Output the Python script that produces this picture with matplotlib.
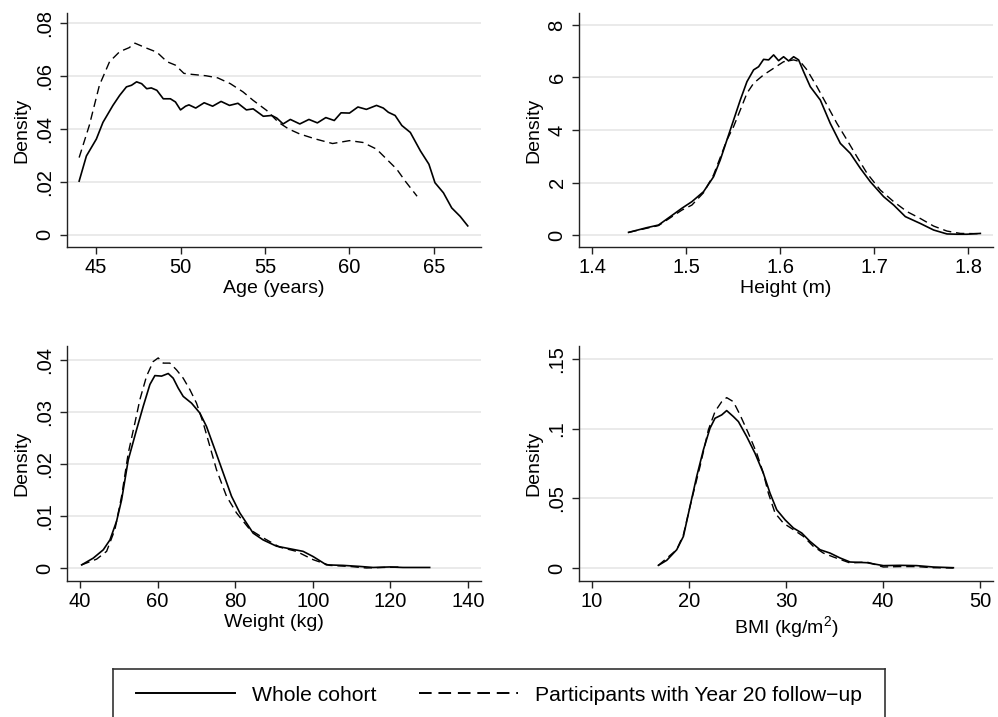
import numpy as np
import matplotlib
matplotlib.use("Agg")
import matplotlib.pyplot as plt
from matplotlib.lines import Line2D

plt.rcParams["font.family"] = ["Liberation Sans", "DejaVu Sans"]
plt.rcParams["mathtext.fontset"] = "custom"
plt.rcParams["mathtext.rm"] = "Liberation Sans"
plt.rcParams["mathtext.default"] = "regular"

# ---- data ----
age_whole_x = [44.0, 44.43, 45.02, 45.41, 46.0, 46.4, 46.8, 47.1, 47.4, 47.7, 48.0, 48.27, 48.6, 48.98,
               49.4, 49.7, 50.0, 50.3, 50.5, 50.9, 51.4, 51.9, 52.4, 52.9, 53.4, 53.9, 54.3, 54.9, 55.4,
               55.7, 56.07, 56.5, 57.06, 57.6, 58.1, 58.6, 59.1, 59.5, 60.0, 60.5, 61.0, 61.6, 62.0, 62.3,
               62.7, 63.1, 63.6, 64.2, 64.7, 65.06, 65.56, 66.05, 66.55, 67.0]
age_whole_y = [.0203, .0298, .0362, .0425, .0489, .0527, .0559, .0565, .0578, .0571, .0552, .0555, .0546,
               .0514, .0514, .0502, .0472, .0486, .0491, .0479, .0499, .0486, .0504, .0489, .0497, .0472,
               .0476, .0448, .0451, .0441, .0419, .0436, .0419, .0436, .0423, .0443, .0432, .0461, .0460,
               .0483, .0474, .0489, .0479, .0463, .0451, .0413, .0387, .0317, .0267, .0197, .0159, .0102,
               .0070, .0034]
age_fu_x = [44.0, 44.6, 45.2, 45.8, 46.4, 46.96, 47.3, 48.0, 48.6, 49.2, 49.7, 50.2, 50.7, 51.5, 52.2,
            52.95, 53.7, 54.3, 55.1, 55.8, 56.4, 57.06, 58.0, 59.0, 60.0, 60.8, 61.6, 62.2, 62.8, 63.3, 64.0]
age_fu_y = [.0292, .0413, .0565, .0654, .0692, .0707, .0724, .0705, .0690, .0654, .0641, .0610, .0606,
            .0601, .0593, .0571, .0540, .0508, .0470, .0425, .0400, .0381, .0362, .0345, .0356, .0349,
            .0324, .0286, .0248, .0203, .0146]

height_whole_x = [1.4387, 1.4582, 1.4706, 1.4831, 1.4955, 1.5061, 1.5185, 1.5292, 1.5363, 1.5434, 1.5505,
                  1.5576, 1.5647, 1.5718, 1.5771, 1.5824, 1.5878, 1.5931, 1.5984, 1.6037, 1.6091, 1.6144,
                  1.6197, 1.6250, 1.6321, 1.6428, 1.6534, 1.6641, 1.6747, 1.6854, 1.6960, 1.7102, 1.7209,
                  1.7333, 1.7492, 1.7634, 1.7776, 1.7883, 1.7989, 1.8131]
height_whole_y = [0.10, 0.28, 0.38, 0.70, 1.02, 1.27, 1.65, 2.22, 2.86, 3.62, 4.38, 5.14, 5.84, 6.29, 6.41,
                  6.69, 6.67, 6.86, 6.64, 6.79, 6.63, 6.79, 6.67, 6.22, 5.65, 5.14, 4.25, 3.49, 3.11, 2.54,
                  2.03, 1.46, 1.14, 0.70, 0.44, 0.19, 0.04, 0.03, 0.03, 0.06]
height_fu_x = [1.4387, 1.4706, 1.4955, 1.5061, 1.5185, 1.5292, 1.5434, 1.5505, 1.5576, 1.5647, 1.5718,
               1.5824, 1.5931, 1.6037, 1.6144, 1.6215, 1.6286, 1.6392, 1.6499, 1.6605, 1.6712, 1.6818,
               1.6925, 1.7067, 1.7209, 1.7351, 1.7492, 1.7634, 1.7776, 1.7918, 1.8131]
height_fu_y = [0.10, 0.36, 0.95, 1.14, 1.61, 2.29, 3.62, 4.13, 4.76, 5.40, 5.78, 6.10, 6.35, 6.60, 6.67,
               6.60, 6.29, 5.65, 4.95, 4.25, 3.62, 2.98, 2.35, 1.71, 1.27, 0.89, 0.63, 0.34, 0.15, 0.06, 0.05]

weight_whole_x = [40.43, 43.43, 46.01, 47.73, 49.44, 50.73, 52.45, 54.59, 56.31, 58.03, 59.31, 61.03, 62.75,
                  64.03, 65.32, 66.61, 68.76, 70.90, 72.62, 74.76, 76.91, 79.06, 81.20, 84.64, 87.21, 90.64,
                  94.08, 97.51, 100.09, 103.52, 107.81, 112.10, 115.54, 119.83, 123.26, 130.13]
weight_whole_y = [.0006, .0019, .0035, .0054, .0090, .0131, .0208, .0266, .0311, .0353, .0370, .0369, .0374,
                  .0365, .0346, .0330, .0317, .0298, .0272, .0228, .0183, .0138, .0106, .0067, .0054, .0042,
                  .0037, .0032, .0022, .0006, .0005, .0003, .0001, .0002, .0001, .0001]
weight_fu_x = [40.43, 44.29, 46.87, 49.01, 50.73, 52.45, 54.16, 55.45, 57.17, 58.88, 60.17, 61.46, 63.18,
               64.89, 66.61, 68.33, 70.04, 71.76, 73.48, 75.19, 77.77, 80.34, 83.78, 87.21, 91.50, 95.79,
               100.09, 104.38, 109.53, 113.82, 118.11, 122.83]
weight_fu_y = [.0006, .0017, .0032, .0074, .0138, .0221, .0279, .0324, .0369, .0397, .0404, .0394, .0394,
               .0381, .0365, .0343, .0317, .0279, .0234, .0189, .0138, .0106, .0074, .0058, .0040, .0032,
               .0016, .0005, .0003, .0000, .0001, .0002]

bmi_whole_x = [16.84, 17.70, 18.73, 19.42, 20.10, 20.79, 21.48, 22.16, 22.68, 23.37, 23.88, 24.57, 25.09,
               25.95, 26.80, 27.66, 28.35, 29.04, 29.90, 30.76, 31.62, 32.47, 33.51, 34.54, 35.57, 36.60,
               38.32, 40.03, 41.75, 43.47, 45.19, 47.25]
bmi_whole_y = [.0019, .0055, .0131, .0227, .0442, .0657, .0848, .1003, .1075, .1099, .1130, .1087, .1051,
               .0943, .0824, .0681, .0537, .0418, .0346, .0287, .0251, .0191, .0131, .0107, .0072, .0043,
               .0038, .0017, .0019, .0017, .0007, .0002]
bmi_fu_x = [16.84, 18.73, 19.42, 20.27, 21.13, 21.99, 22.68, 23.37, 23.88, 24.57, 25.26, 26.12, 26.98,
            27.66, 28.18, 28.87, 29.73, 30.76, 31.79, 32.82, 33.85, 34.88, 36.60, 38.32, 40.03, 41.75,
            43.47, 45.19, 47.25]
bmi_fu_y = [.0019, .0131, .0239, .0490, .0728, .0991, .1123, .1194, .1223, .1194, .1099, .0967, .0824,
            .0681, .0537, .0394, .0322, .0275, .0227, .0155, .0107, .0079, .0036, .0043, .0007, .0010,
            .0010, .0002, .0000]

age_xticks = [45, 50, 55, 60, 65]
age_yticks = [0, .02, .04, .06, .08]
age_ylabels = ["0", ".02", ".04", ".06", ".08"]
height_xticks = [1.4, 1.5, 1.6, 1.7, 1.8]
height_yticks = [0, 2, 4, 6, 8]
height_ylabels = ["0", "2", "4", "6", "8"]
weight_xticks = [40, 60, 80, 100, 120, 140]
weight_yticks = [0, .01, .02, .03, .04]
weight_ylabels = ["0", ".01", ".02", ".03", ".04"]
bmi_xticks = [10, 20, 30, 40, 50]
bmi_yticks = [0, .05, .1, .15]
bmi_ylabels = ["0", ".05", ".1", ".15"]

legend_labels = ["Whole cohort", "Participants with Year 20 follow\u2212up"]

# ---- figure ----
fig = plt.figure(figsize=(9.98, 7.17), dpi=100)
axc = "#222222"
dash = (0, (6, 3.5))


def panel(rect, xs, ys, xf, yf, xticks, yticks, ylabels, xlim, ylim, xlabel):
    ax = fig.add_axes(rect)
    for y in yticks:
        ax.axhline(y, color="#e8e8e8", lw=1.3, zorder=0)
    ax.plot(xs, ys, color="black", lw=1.2, solid_joinstyle="round")
    ax.plot(xf, yf, color="black", lw=1.0, linestyle=dash)
    ax.set_xlim(xlim)
    ax.set_ylim(ylim)
    ax.set_xticks(xticks)
    ax.set_xticklabels([("%g" % t) for t in xticks])
    ax.set_yticks(yticks)
    ax.set_yticklabels(ylabels, rotation=90, va="center")
    for s in ["top", "right"]:
        ax.spines[s].set_visible(False)
    for s in ["left", "bottom"]:
        ax.spines[s].set_color(axc)
        ax.spines[s].set_linewidth(1.0)
    ax.tick_params(length=5, width=1.0, color=axc, labelsize=14.5, pad=3)
    ax.tick_params(axis="y", pad=4)
    ax.set_xlabel(xlabel, fontsize=14, labelpad=2)
    ax.set_ylabel("Density", fontsize=14, labelpad=4)
    return ax


panel([0.0671, 0.6555, 0.4148, 0.3264], age_whole_x, age_whole_y, age_fu_x, age_fu_y,
      age_xticks, age_yticks, age_ylabels, (43.28, 67.78), (-0.00457, 0.0838), "Age (years)")
panel([0.5802, 0.6555, 0.4148, 0.3264], height_whole_x, height_whole_y, height_fu_x, height_fu_y,
      height_xticks, height_yticks, height_ylabels, (1.386, 1.8266), (-0.457, 8.457), "Height (m)")
panel([0.0671, 0.1897, 0.4148, 0.3278], weight_whole_x, weight_whole_y, weight_fu_x, weight_fu_y,
      weight_xticks, weight_yticks, weight_ylabels, (36.65, 143.35), (-0.0025, 0.0427), "Weight (kg)")
panel([0.5802, 0.1897, 0.4148, 0.3278], bmi_whole_x, bmi_whole_y, bmi_fu_x, bmi_fu_y,
      bmi_xticks, bmi_yticks, bmi_ylabels, (8.66, 51.34), (-0.00933, 0.1594), "BMI (kg/m$^{2}$)")

# legend box (bottom edge falls off the figure)
lax = fig.add_axes([0.1132, -0.0056, 0.7735, 0.0725])
lax.set_xticks([])
lax.set_yticks([])
lax.patch.set_alpha(0)
lax.spines["bottom"].set_visible(False)
for s in ["left", "top", "right"]:
    lax.spines[s].set_color("#333333")
    lax.spines[s].set_linewidth(1.2)
handles = [Line2D([], [], color="black", lw=1.4),
           Line2D([], [], color="black", lw=1.4, linestyle=(0, (6.5, 3.5)))]
lax.legend(handles, legend_labels, loc="center", ncol=2, frameon=False, fontsize=15.2,
           handlelength=4.7, handletextpad=0.8, columnspacing=2.0, borderaxespad=0)

fig.savefig("out.png", dpi=100)
